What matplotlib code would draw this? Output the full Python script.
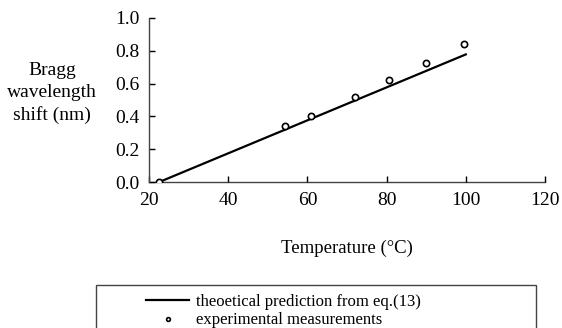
import matplotlib
matplotlib.use('Agg')
import matplotlib.pyplot as plt
from matplotlib.patches import Rectangle

# experimental points
temp_meas = [22.6, 54.3, 60.8, 72.1, 80.6, 89.9, 99.6]
shift_meas = [0.0, 0.34, 0.40, 0.52, 0.625, 0.725, 0.84]

# theory line end points
temp_theory = [22.6, 100.0]
shift_theory = [0.0, 0.778]

x_ticks = [20, 40, 60, 80, 100, 120]
y_ticks = [0.0, 0.2, 0.4, 0.6, 0.8, 1.0]

plt.rcParams['font.family'] = ['Liberation Serif', 'DejaVu Serif']

fig = plt.figure(figsize=(5.62, 3.28), dpi=100)
ax = fig.add_axes([149 / 562, 1 - 182 / 328, 396 / 562, 164 / 328])

line, = ax.plot(temp_theory, shift_theory, color='black', linewidth=1.6,
                label='theoetical prediction from eq.(13)')
pts, = ax.plot(temp_meas, shift_meas, linestyle='none', marker='o', markersize=4.5,
               markerfacecolor='white', markeredgecolor='black', markeredgewidth=1.2,
               label='experimental measurements')

ax.set_xlim(20, 120)
ax.set_ylim(0, 1.0)
ax.set_xticks(x_ticks)
ax.set_yticks(y_ticks)
ax.set_yticklabels([f'{v:.1f}' for v in y_ticks])
ax.tick_params(direction='in', length=4, width=1, labelsize=14, pad=7)
for s in ['top', 'right']:
    ax.spines[s].set_visible(False)
for s in ['left', 'bottom']:
    ax.spines[s].set_linewidth(1)
    ax.spines[s].set_color('#444444')
ax.spines['bottom'].set_zorder(0)

ax.set_xlabel('Temperature (°C)', fontsize=13.5, labelpad=22)
fig.text(52 / 562, 1 - 93 / 328, 'Bragg\nwavelength\nshift (nm)', ha='center', va='center',
         fontsize=14, linespacing=1.35)

# legend box
fig.patches.append(Rectangle((96 / 562, -0.05), 440 / 562, 1 - 285 / 328 + 0.05,
                             transform=fig.transFigure, fill=False,
                             edgecolor='#444444', linewidth=1))
fig.legend(handles=[line, pts], loc='upper left', bbox_to_anchor=(136 / 562, 1 - 284 / 328),
           frameon=False, fontsize=12, handlelength=2.6, handletextpad=0.4,
           labelspacing=0.15, borderpad=0.1, markerscale=0.6)

fig.savefig('out.png', dpi=100)
